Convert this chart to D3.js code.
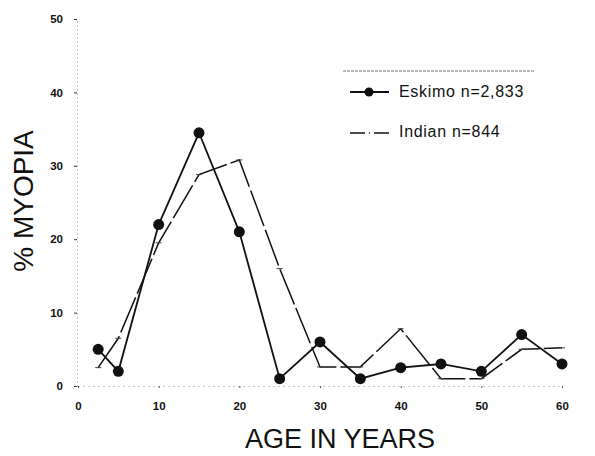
<!DOCTYPE html>
<html>
<head>
<meta charset="utf-8">
<script src="https://cdn.jsdelivr.net/npm/d3@7"></script>
<style>
  body { margin: 0; background: #fff; }
  text { font-family: "Liberation Sans", Arial, sans-serif; fill: #111; }
</style>
</head>
<body>
<svg width="595" height="456"></svg>
<script>
// data
const eskimoAge = [2.5, 5, 10, 15, 20, 25, 30, 35, 40, 45, 50, 55, 60];
const eskimoPct = [5, 2, 22, 34.5, 21, 1, 6, 1, 2.5, 3, 2, 7, 3];
const indianAge = [2.5, 5, 10, 15, 20, 25, 30, 35, 40, 45, 50, 55, 60];
const indianPct = [2.5, 6.5, 19.5, 28.8, 30.8, 16, 2.6, 2.6, 7.8, 1, 1, 5, 5.2];
const xTicks = [0, 10, 20, 30, 40, 50, 60];
const yTicks = [0, 10, 20, 30, 40, 50];
const legendLabels = ["Eskimo n=2,833", "Indian n=844"];

const svg = d3.select("svg");

const x = d3.scaleLinear().domain([0, 60]).range([78, 562]);
const y = d3.scaleLinear().domain([0, 50]).range([386, 19]);

// axes, dotted like the scan
const xAxis = svg.append("g")
    .attr("transform", "translate(0,386)")
    .call(d3.axisBottom(x).tickValues(xTicks).tickSize(2).tickPadding(14).tickSizeOuter(0));
xAxis.select(".domain").attr("stroke", "#888").attr("stroke-dasharray", "1,4");
xAxis.selectAll(".tick line").attr("stroke", "#555");
xAxis.selectAll(".tick text").style("font-size", "11.5px").style("font-weight", "bold").attr("fill", "#222");

const yAxis = svg.append("g")
    .attr("transform", "translate(77,0)")
    .call(d3.axisLeft(y).tickValues(yTicks).tickSize(3).tickPadding(11).tickSizeOuter(0));
yAxis.select(".domain").attr("stroke", "#888").attr("stroke-dasharray", "1,3");
yAxis.selectAll(".tick line").attr("stroke", "#333");
yAxis.selectAll(".tick text").style("font-size", "11.5px").style("font-weight", "bold").attr("fill", "#222");

// Indian line: long dashes, broken near points
const indian = indianAge.map((a, i) => [a, indianPct[i]]);
svg.append("path")
    .datum(indian)
    .attr("fill", "none")
    .attr("stroke", "#111")
    .attr("stroke-width", 1.5)
    .attr("stroke-dasharray", "38,4")
    .attr("d", d3.line().x(d => x(d[0])).y(d => y(d[1])));

// small cross ticks at Indian points
svg.selectAll(".itick")
    .data(indian)
    .enter()
    .append("line")
    .attr("x1", d => x(d[0]) - 3)
    .attr("x2", d => x(d[0]) + 3)
    .attr("y1", d => y(d[1]))
    .attr("y2", d => y(d[1]))
    .attr("stroke", "#444")
    .attr("stroke-width", 1);

// Eskimo line with dots
const eskimo = eskimoAge.map((a, i) => [a, eskimoPct[i]]);
svg.append("path")
    .datum(eskimo)
    .attr("fill", "none")
    .attr("stroke", "#111")
    .attr("stroke-width", 1.8)
    .attr("d", d3.line().x(d => x(d[0])).y(d => y(d[1])));

svg.selectAll(".edot")
    .data(eskimo)
    .enter()
    .append("circle")
    .attr("cx", d => x(d[0]))
    .attr("cy", d => y(d[1]))
    .attr("r", 5.5)
    .attr("fill", "#111");

// legend
svg.append("line")
    .attr("x1", 343).attr("x2", 535).attr("y1", 71).attr("y2", 71)
    .attr("stroke", "#777").attr("stroke-width", 1).attr("stroke-dasharray", "3,1");

svg.append("line")
    .attr("x1", 350).attr("x2", 389).attr("y1", 92).attr("y2", 92)
    .attr("stroke", "#111").attr("stroke-width", 1.8);
svg.append("circle").attr("cx", 369).attr("cy", 92).attr("r", 4.5).attr("fill", "#111");

svg.append("line")
    .attr("x1", 350).attr("x2", 389).attr("y1", 133).attr("y2", 133)
    .attr("stroke", "#111").attr("stroke-width", 1.6).attr("stroke-dasharray", "15,4,1,4");

svg.selectAll(".legtext")
    .data(legendLabels)
    .enter()
    .append("text")
    .attr("x", 399)
    .attr("y", (d, i) => 97 + i * 40)
    .style("font-size", "16px")
    .style("letter-spacing", "0.7px")
    .text(d => d);

// axis titles
svg.append("text")
    .attr("x", 340)
    .attr("y", 448)
    .style("text-anchor", "middle")
    .style("font-size", "27px")
    .text("AGE IN YEARS");

svg.append("text")
    .attr("transform", "translate(33,201) rotate(-90)")
    .style("text-anchor", "middle")
    .style("font-size", "28px")
    .text("% MYOPIA");
</script>
</body>
</html>
